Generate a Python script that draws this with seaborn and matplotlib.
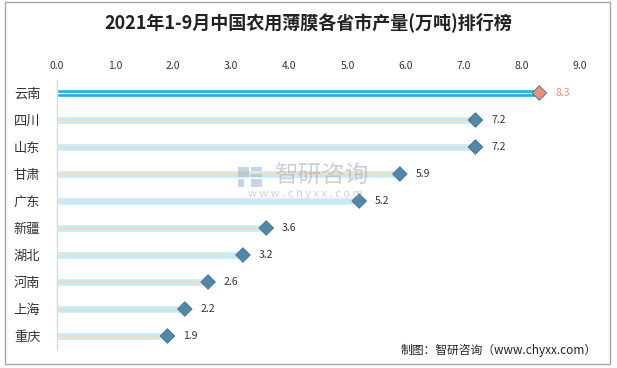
import matplotlib
matplotlib.use('Agg')
import matplotlib.pyplot as plt
import seaborn as sns
import pandas as pd
from matplotlib.patches import Rectangle

# data
provinces = ['云南', '四川', '山东', '甘肃', '广东', '新疆', '湖北', '河南', '上海', '重庆']
output = [8.3, 7.2, 7.2, 5.9, 5.2, 3.6, 3.2, 2.6, 2.2, 1.9]
xticks = [0.0, 1.0, 2.0, 3.0, 4.0, 5.0, 6.0, 7.0, 8.0, 9.0]

df = pd.DataFrame({'省市': provinces, '产量': output})

sns.set_style('white')
plt.rcParams['font.family'] = ['Noto Sans CJK SC', 'DejaVu Sans']

fig = plt.figure(figsize=(6.17, 3.68), dpi=100)
ax = fig.add_axes([57 / 617, 1 - 349.5 / 368, (580 - 57) / 617, 270 / 368])

bar_colors = ['#1cb0e8'] + ['#c8ebf8'] * (len(provinces) - 1)
sns.barplot(data=df, x='产量', y='省市', hue='省市', palette=bar_colors,
            width=0.27, legend=False, ax=ax, saturation=1)

# thin line along the middle of each bar
line_colors = ['white'] + ['#f5dcb5'] * (len(provinces) - 1)
for i, (v, c) in enumerate(zip(output, line_colors)):
    ax.hlines(i, 0, v, color=c, lw=0.9, zorder=3)

# diamonds at the ends
mk_colors = ['#ef8d76'] + ['#4f88a8'] * (len(provinces) - 1)
sns.scatterplot(data=df, x='产量', y='省市', hue='省市', palette=mk_colors,
                marker='D', s=55, edgecolor='#3d7190', linewidth=0.6,
                legend=False, ax=ax, zorder=4)

lab_colors = ['#ef8d76'] + ['#333333'] * (len(provinces) - 1)
for i, (v, c) in enumerate(zip(output, lab_colors)):
    ax.text(v + 0.27, i, f'{v:.1f}', color=c, fontsize=7.5, va='center', ha='left')

ax.set_xlim(0, 9)
ax.set_ylim(len(provinces) - 0.5, -0.5)
ax.set_xticks(xticks)
ax.set_xticklabels([f'{t:.1f}' for t in xticks], fontsize=7.5, color='#333333')
ax.xaxis.tick_top()
ax.tick_params(axis='x', length=0, pad=6)
ax.tick_params(axis='y', length=0, pad=12, labelsize=9.5, labelcolor='#333333')
ax.set_xlabel('')
ax.set_ylabel('')
for s in ['top', 'right', 'bottom']:
    ax.spines[s].set_visible(False)
ax.spines['left'].set_color('#d9d9d9')
ax.spines['left'].set_linewidth(1)
ax.grid(False)

# title, source and watermark
fig.text(0.5, 1 - 22 / 368, '2021年1-9月中国农用薄膜各省市产量(万吨)排行榜',
         ha='center', va='center', fontsize=13, fontweight='bold', color='#222222')
fig.text(597 / 617, 1 - 350 / 368, '制图：智研咨询（www.chyxx.com）',
         ha='right', va='center', fontsize=8.5, color='#222222')
fig.text(321 / 617, 1 - 176 / 368, '智研咨询', ha='center', va='center',
         fontsize=17, color='#b0b0b0', alpha=0.6, zorder=10)
fig.text(305 / 617, 1 - 194 / 368, 'w w w . c h y x x . c o m', ha='center', va='center',
         fontsize=8, color='#b0b0b0', alpha=0.6, zorder=10)
# small logo block next to the watermark
for (lx, ly, lw_, lh) in [(238, 167, 11, 10), (251, 167, 11, 4), (251, 174, 11, 3),
                           (238, 179, 6, 8), (251, 179, 11, 8)]:
    fig.patches.append(Rectangle((lx / 617, 1 - (ly + lh) / 368), lw_ / 617, lh / 368,
                                 transform=fig.transFigure, color='#9fb4cc',
                                 alpha=0.55, lw=0, zorder=10))

fig.patches.append(Rectangle((5 / 617, 4 / 368), 605 / 617, 362 / 368,
                             transform=fig.transFigure, fill=False,
                             edgecolor='#a6a6a6', lw=1))

fig.savefig('out.png', dpi=100)
